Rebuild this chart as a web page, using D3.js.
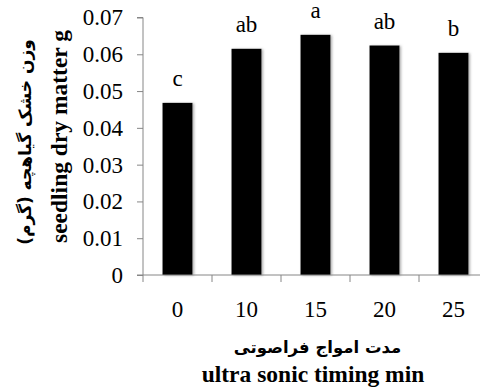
<!DOCTYPE html>
<html>
<head>
<meta charset="utf-8">
<script src="https://cdn.jsdelivr.net/npm/d3@7"></script>
<style>
  body { margin: 0; background: #fff; }
  svg { display: block; }
  .axis path, .axis line { stroke: #868686; }
  .serif { font-family: "Liberation Serif", "DejaVu Serif", "Times New Roman", serif; }
  .fa { font-family: "DejaVu Sans", sans-serif; font-weight: bold; }
</style>
</head>
<body>
<svg id="chart" width="480" height="392"></svg>
<script>
const categories = ['0', '10', '15', '20', '25'];
const values = [0.0468, 0.0615, 0.0653, 0.0624, 0.0604];
const groups = ['c', 'ab', 'a', 'ab', 'b'];
const yTicks = [0, 0.01, 0.02, 0.03, 0.04, 0.05, 0.06, 0.07];

const svg = d3.select('#chart');

// plot area (right side runs off the picture like the original)
const plotLeft = 143, plotTop = 17.5, plotBottom = 275;
const bandW = 69;

const x = d3.scaleBand()
    .domain(categories)
    .range([plotLeft, plotLeft + bandW * categories.length])
    .padding(0);

const y = d3.scaleLinear()
    .domain([0, 0.07])
    .range([plotBottom, plotTop]);

const barW = x.bandwidth() * 0.435;

// soft shadow on bars
const defs = svg.append('defs');
defs.append('filter')
    .attr('id', 'shadow')
    .attr('x', '-20%').attr('width', '150%')
    .append('feDropShadow')
    .attr('dx', 1.5).attr('dy', 0.5)
    .attr('stdDeviation', 1)
    .attr('flood-color', '#777')
    .attr('flood-opacity', 0.6);

svg.append('g')
    .selectAll('rect')
    .data(values)
    .enter().append('rect')
    .attr('x', (d, i) => x(categories[i]) + (x.bandwidth() - barW) / 2)
    .attr('y', d => y(d))
    .attr('width', barW)
    .attr('height', d => plotBottom - y(d))
    .attr('fill', '#000')
    .attr('filter', 'url(#shadow)');

// significance letters
svg.append('g')
    .selectAll('text')
    .data(values)
    .enter().append('text')
    .attr('class', 'serif')
    .attr('x', (d, i) => x(categories[i]) + x.bandwidth() / 2)
    .attr('y', d => y(d) - 16.5)
    .attr('text-anchor', 'middle')
    .style('font-size', '23px')
    .text((d, i) => groups[i]);

// y axis
const yAxis = svg.append('g')
    .attr('class', 'axis')
    .attr('transform', `translate(${plotLeft},0)`)
    .call(d3.axisLeft(y).tickValues(yTicks).tickSize(6).tickPadding(14)
        .tickFormat(d => d === 0 ? '0' : d3.format('.2f')(d)));
yAxis.attr('font-family', null).attr('font-size', null);
yAxis.select('.domain').attr('d', `M-6,${plotTop}H0V${plotBottom}`);
yAxis.selectAll('text')
    .attr('class', 'serif')
    .style('font-size', '23px')
    .attr('fill', '#000');

// x axis: ticks between categories, pointing down
const xAxis = svg.append('g')
    .attr('class', 'axis')
    .attr('transform', `translate(0,${plotBottom})`);
xAxis.append('line')
    .attr('x1', plotLeft - 6).attr('x2', x.range()[1])
    .attr('y1', 0).attr('y2', 0);
xAxis.selectAll('.tick')
    .data(categories.concat(['end']))
    .enter().append('line')
    .attr('x1', (d, i) => plotLeft + i * x.step())
    .attr('x2', (d, i) => plotLeft + i * x.step())
    .attr('y1', 0).attr('y2', 7);
xAxis.selectAll('text')
    .data(categories)
    .enter().append('text')
    .attr('class', 'serif')
    .attr('x', d => x(d) + x.bandwidth() / 2)
    .attr('y', 42)
    .attr('text-anchor', 'middle')
    .style('font-size', '23px')
    .text(d => d);

// x titles
svg.append('text')
    .attr('class', 'fa')
    .attr('x', 317.5).attr('y', 353)
    .attr('text-anchor', 'middle')
    .attr('direction', 'rtl')
    .style('font-size', '16.5px')
    .text('مدت امواج فراصوتی');

svg.append('text')
    .attr('class', 'serif')
    .attr('x', 313).attr('y', 382)
    .attr('text-anchor', 'middle')
    .style('font-weight', 'bold')
    .style('font-size', '23.5px')
    .text('ultra sonic timing min');

// y titles
svg.append('text')
    .attr('class', 'serif')
    .attr('transform', 'translate(67,136.5) rotate(-90)')
    .attr('text-anchor', 'middle')
    .style('font-weight', 'bold')
    .style('font-size', '23.5px')
    .text('seedling dry matter g');

svg.append('text')
    .attr('class', 'fa')
    .attr('transform', 'translate(31,142) rotate(-90)')
    .attr('text-anchor', 'middle')
    .attr('direction', 'rtl')
    .style('font-size', '17px')
    .text('وزن خشک گیاهچه (گرم)');
</script>
</body>
</html>
